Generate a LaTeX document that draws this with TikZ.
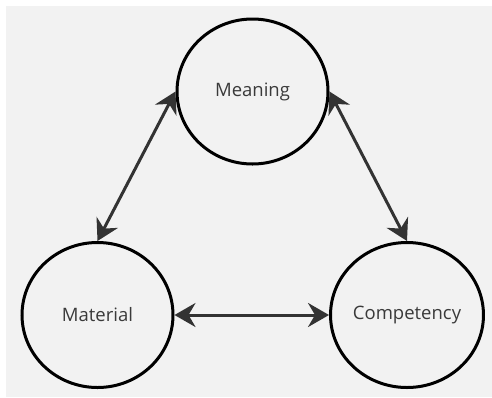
\documentclass[tikz,border=0pt]{standalone}
\usepackage{fontspec}
\setmainfont{Open Sans}
\usetikzlibrary{arrows.meta,shapes.geometric}
\definecolor{paper}{HTML}{F2F2F2}
\definecolor{ink}{HTML}{333333}
\definecolor{label}{HTML}{3A3A3A}
\tikzset{
  concept/.style={ellipse, draw=black, line width=3pt, fill=paper,
    minimum width=151pt, minimum height=145pt, inner sep=0pt,
    text=label, font=\fontsize{18.5}{22}\selectfont},
  link/.style={draw=ink, line width=3pt, {Stealth[length=21pt,width=24pt,inset=7pt]}-{Stealth[length=21pt,width=24pt,inset=7pt]}}
}
\begin{document}
\begin{tikzpicture}[x=1pt,y=-1pt]
  \useasboundingbox (0,0) rectangle (492,397);
  \fill[white] (0,0) rectangle (492,397);
  \fill[paper] (6,6) rectangle (492,397);
  \node[concept] (meaning) at (252.5,91.5) {Meaning};
  \node[concept] (material) at (97.5,315) {Material};
  \node[concept] (competency) at (407,315) {Competency};
  \draw[link] (meaning.west) -- (material.north);
  \draw[link] (meaning.east) -- (competency.north);
  \draw[link] (material.east) -- (competency.west);
\end{tikzpicture}
\end{document}
